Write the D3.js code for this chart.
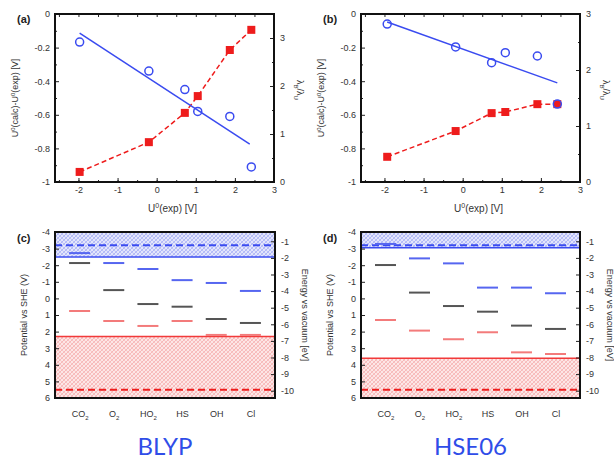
<!DOCTYPE html>
<html>
<head>
<meta charset="utf-8">
<script src="https://cdn.jsdelivr.net/npm/d3@7"></script>
<style>
  body { margin: 0; background: #fff; }
  svg { font-family: "Liberation Sans", "DejaVu Sans", sans-serif; }
  .tick text { fill: #333; font-size: 9px; }
</style>
</head>
<body>
<svg width="614" height="460"></svg>
<script>
// данные панелей (a) и (b): U0(exp), отклонение (синие), отношение (красные)
const uExpA  = [-1.97, -0.2, 0.72, 1.05, 1.87, 2.42];
const errA   = [-0.167, -0.34, -0.45, -0.58, -0.61, -0.91];
const ratioA = [0.21, 0.83, 1.44, 1.79, 2.75, 3.17];
const fitA   = [[-1.97, -0.114], [2.38, -0.774]];

const uExpB  = [-1.93, -0.18, 0.74, 1.09, 1.91, 2.42];
const errB   = [-0.06, -0.196, -0.29, -0.23, -0.25, -0.536];
const ratioB = [0.45, 0.91, 1.23, 1.25, 1.39, 1.39];
const fitB   = [[-1.93, -0.048], [2.42, -0.41]];

// данные панелей (c) и (d): уровни относительно SHE
const species   = ["CO2", "O2", "HO2", "HS", "OH", "Cl"];
const blypBlue  = [-2.73, -2.13, -1.77, -1.1, -0.93, -0.45];
const blypBlack = [-2.13, -0.5, 0.34, 0.5, 1.24, 1.48];
const blypRed   = [0.76, 1.36, 1.66, 1.36, 2.2, 2.2];
const blypBands = {blueEdge: -2.5, blueDash: -3.2, redEdge: 2.3, redDash: 5.5};

const hseBlue  = [-3.28, -2.41, -2.11, -0.65, -0.65, -0.31];
const hseBlack = [-2.01, -0.35, 0.46, 0.8, 1.64, 1.84];
const hseRed   = [1.3, 1.94, 2.46, 2.04, 3.25, 3.35];
const hseBands = {blueEdge: -3.05, blueDash: -3.2, redEdge: 3.6, redDash: 5.5};

const svg = d3.select("svg");
const RED = "#ee1c1c", BLUE = "#3a4bf0";

// штриховка для зон
const defs = svg.append("defs");
function hatch(id, base, line) {
  const p = defs.append("pattern").attr("id", id)
    .attr("width", 4).attr("height", 4).attr("patternUnits", "userSpaceOnUse");
  p.append("rect").attr("width", 4).attr("height", 4).attr("fill", base);
  p.append("path").attr("d", "M0,4 L4,0 M-1,1 L1,-1 M3,5 L5,3")
    .attr("stroke", line).attr("stroke-width", 0.7);
  p.append("path").attr("d", "M0,0 L4,4").attr("stroke", line).attr("stroke-width", 0.5);
}
hatch("hBlue", "#e3e6fc", "#9aa3f3");
hatch("hRed", "#fde6e6", "#f4a5a5");

function styleAxis(g) {
  g.select(".domain").remove();
  g.selectAll(".tick line").attr("stroke", "#222");
}

function rotLabel(x, y, text, angle) {
  return svg.append("text")
    .attr("transform", `translate(${x},${y}) rotate(${angle})`)
    .attr("text-anchor", "middle")
    .attr("font-size", 9).attr("fill", "#333")
    .text(text);
}

function drawScatter(c) {
  const sx = d3.scaleLinear().domain([-2.6, 3]).range([c.x0, c.x1]);
  const sy = d3.scaleLinear().domain([-1, 0]).range([c.y1, c.y0]);
  const sr = d3.scaleLinear().domain([0, c.rMax]).range([c.y1, c.y0]);

  // оси: основные деления с подписями + мелкие деления
  svg.append("g").attr("transform", `translate(0,${c.y1})`)
    .call(d3.axisBottom(sx).tickValues([-2, -1, 0, 1, 2, 3]).tickSize(-4).tickPadding(5).tickFormat(d => String(d)))
    .call(styleAxis);
  svg.append("g").attr("transform", `translate(0,${c.y1})`)
    .call(d3.axisBottom(sx).tickValues(d3.range(-2.5, 3, 0.5)).tickSize(-2).tickFormat(""))
    .call(styleAxis);
  svg.append("g").attr("transform", `translate(0,${c.y0})`)
    .call(d3.axisTop(sx).tickValues(d3.range(-2.5, 3, 0.5)).tickSize(-3).tickFormat(""))
    .call(styleAxis);
  svg.append("g").attr("transform", `translate(${c.x0},0)`)
    .call(d3.axisLeft(sy).tickValues([0, -0.2, -0.4, -0.6, -0.8, -1]).tickSize(-4).tickPadding(5)
      .tickFormat(d => d === 0 ? "0" : d === -1 ? "-1" : d.toFixed(1)))
    .call(styleAxis);
  svg.append("g").attr("transform", `translate(${c.x0},0)`)
    .call(d3.axisLeft(sy).tickValues(d3.range(-0.9, 0, 0.2)).tickSize(-2).tickFormat(""))
    .call(styleAxis);
  svg.append("g").attr("transform", `translate(${c.x1},0)`)
    .call(d3.axisRight(sr).tickValues(d3.range(0, c.rMax + 0.01, 1)).tickSize(-4).tickPadding(6).tickFormat(d => String(d)))
    .call(styleAxis);
  svg.append("g").attr("transform", `translate(${c.x1},0)`)
    .call(d3.axisRight(sr).tickValues(d3.range(0.5, c.rMax, 1)).tickSize(-2).tickFormat(""))
    .call(styleAxis);

  svg.append("rect").attr("x", c.x0).attr("y", c.y0)
    .attr("width", c.x1 - c.x0).attr("height", c.y1 - c.y0)
    .attr("fill", "none").attr("stroke", "#111").attr("stroke-width", 2);

  // красная пунктирная линия и квадраты
  const red = c.u.map((u, i) => [u, c.ratio[i]]);
  svg.append("path").datum(red)
    .attr("d", d3.line().x(d => sx(d[0])).y(d => sr(d[1])))
    .attr("fill", "none").attr("stroke", RED).attr("stroke-width", 1.5)
    .attr("stroke-dasharray", "5,3");
  svg.selectAll(null).data(red).enter().append("rect")
    .attr("x", d => sx(d[0]) - 4).attr("y", d => sr(d[1]) - 4)
    .attr("width", 8).attr("height", 8).attr("fill", RED);

  // синяя линия аппроксимации и кружки
  svg.append("path").datum(c.fit)
    .attr("d", d3.line().x(d => sx(d[0])).y(d => sy(d[1])))
    .attr("fill", "none").attr("stroke", BLUE).attr("stroke-width", 1.5);
  svg.selectAll(null).data(c.u.map((u, i) => [u, c.err[i]])).enter().append("circle")
    .attr("cx", d => sx(d[0])).attr("cy", d => sy(d[1])).attr("r", 4)
    .attr("fill", "none").attr("stroke", BLUE).attr("stroke-width", 1.5);

  svg.append("text").attr("x", c.x0 - 38).attr("y", c.y0 + 9)
    .attr("font-weight", "bold").attr("font-size", 11).attr("fill", "#222").text(c.tag);

  const xl = svg.append("text").attr("x", (c.x0 + c.x1) / 2 + 8).attr("y", c.y1 + 30)
    .attr("text-anchor", "middle").attr("font-size", 10).attr("fill", "#333");
  xl.append("tspan").text("U");
  xl.append("tspan").attr("dy", -4).attr("font-size", 7).text("0");
  xl.append("tspan").attr("dy", 4).text("(exp) [V]");

  const yl = rotLabel(c.x0 - 37, (c.y0 + c.y1) / 2, "", -90);
  yl.append("tspan").text("U");
  yl.append("tspan").attr("dy", -3).attr("font-size", 6).text("0");
  yl.append("tspan").attr("dy", 3).text("(calc)-U");
  yl.append("tspan").attr("dy", -3).attr("font-size", 6).text("0");
  yl.append("tspan").attr("dy", 3).text("(exp) [V]");

  const rl = rotLabel(c.x1 + 23, (c.y0 + c.y1) / 2 - 8, "", 90);
  rl.append("tspan").text("λ");
  rl.append("tspan").attr("dy", 3).attr("font-size", 6).text("B");
  rl.append("tspan").attr("dy", -3).text("/λ");
  rl.append("tspan").attr("dy", 3).attr("font-size", 6).text("U");
}

function drawLevels(c) {
  const sx = d3.scalePoint().domain(species).range([c.x0, c.x1]).padding(0.72);
  const sy = d3.scaleLinear().domain([-4, 6]).range([c.y0, c.y1]);
  const se = d3.scaleLinear().domain([-0.44, -10.44]).range([c.y0, c.y1]);
  const w = c.x1 - c.x0;

  // зоны
  svg.append("rect").attr("x", c.x0).attr("y", c.y0).attr("width", w)
    .attr("height", sy(c.bands.blueEdge) - c.y0).attr("fill", "url(#hBlue)");
  svg.append("rect").attr("x", c.x0).attr("y", sy(c.bands.redEdge)).attr("width", w)
    .attr("height", c.y1 - sy(c.bands.redEdge)).attr("fill", "url(#hRed)");
  const hline = (v, color, dash, sw) => svg.append("line")
    .attr("x1", c.x0).attr("x2", c.x1).attr("y1", sy(v)).attr("y2", sy(v))
    .attr("stroke", color).attr("stroke-width", sw).attr("stroke-dasharray", dash);
  hline(c.bands.blueEdge, BLUE, null, 1.5);
  hline(c.bands.blueDash, BLUE, "7,4", 2);
  hline(c.bands.redEdge, "#f23a3a", null, 1.5);
  hline(c.bands.redDash, RED, "7,4", 2);

  // уровни
  const dashes = (vals, color) => svg.selectAll(null).data(vals).enter().append("line")
    .attr("x1", (d, i) => sx(species[i]) - 10.5).attr("x2", (d, i) => sx(species[i]) + 10.5)
    .attr("y1", d => sy(d)).attr("y2", d => sy(d))
    .attr("stroke", color).attr("stroke-width", 2);
  dashes(c.blue, "#5666f0");
  dashes(c.black, "#555");
  dashes(c.red, "#f37b7b");

  svg.append("g").attr("transform", `translate(${c.x0},0)`)
    .call(d3.axisLeft(sy).tickValues(d3.range(-4, 7, 1)).tickSize(-4).tickPadding(5).tickFormat(d => String(d)))
    .call(styleAxis);
  svg.append("g").attr("transform", `translate(${c.x1},0)`)
    .call(d3.axisRight(se).tickValues(d3.range(-1, -11, -1)).tickSize(-4).tickPadding(6).tickFormat(d => String(d)))
    .call(styleAxis);
  const xa = svg.append("g").attr("transform", `translate(0,${c.y1})`)
    .call(d3.axisBottom(sx).tickSize(0).tickPadding(13).tickFormat(""))
    .call(styleAxis);
  xa.selectAll(".tick text").each(function(d) {
    const t = d3.select(this).attr("font-size", 8);
    const m = d.match(/^([A-Za-z]+)(\d?)$/);
    t.append("tspan").text(m[1]);
    if (m[2]) t.append("tspan").attr("dy", 3).attr("font-size", 6).text(m[2]);
  });

  svg.append("rect").attr("x", c.x0).attr("y", c.y0)
    .attr("width", w).attr("height", c.y1 - c.y0)
    .attr("fill", "none").attr("stroke", "#111").attr("stroke-width", 2);

  svg.append("text").attr("x", c.x0 - 38).attr("y", c.y0 + 10)
    .attr("font-weight", "bold").attr("font-size", 11).attr("fill", "#222").text(c.tag);
  rotLabel(c.x0 - 28, (c.y0 + c.y1) / 2, "Potential vs SHE (V)", -90);
  rotLabel(c.x1 + 27, (c.y0 + c.y1) / 2, "Energy vs vacuum [eV]", 90);

  svg.append("text").attr("x", (c.x0 + c.x1) / 2).attr("y", 455)
    .attr("text-anchor", "middle").attr("font-family", "Lato, 'Open Sans', sans-serif")
    .attr("font-size", 24).attr("fill", "#2f4de8").text(c.title);
}

drawScatter({x0: 55, x1: 274, y0: 14, y1: 182, rMax: 3.5, u: uExpA, err: errA, ratio: ratioA, fit: fitA, tag: "(a)"});
drawScatter({x0: 361, x1: 580, y0: 14, y1: 182, rMax: 3, u: uExpB, err: errB, ratio: ratioB, fit: fitB, tag: "(b)"});
drawLevels({x0: 55, x1: 275, y0: 232, y1: 398, blue: blypBlue, black: blypBlack, red: blypRed, bands: blypBands, tag: "(c)", title: "BLYP"});
drawLevels({x0: 361, x1: 580, y0: 232, y1: 398, blue: hseBlue, black: hseBlack, red: hseRed, bands: hseBands, tag: "(d)", title: "HSE06"});
</script>
</body>
</html>
